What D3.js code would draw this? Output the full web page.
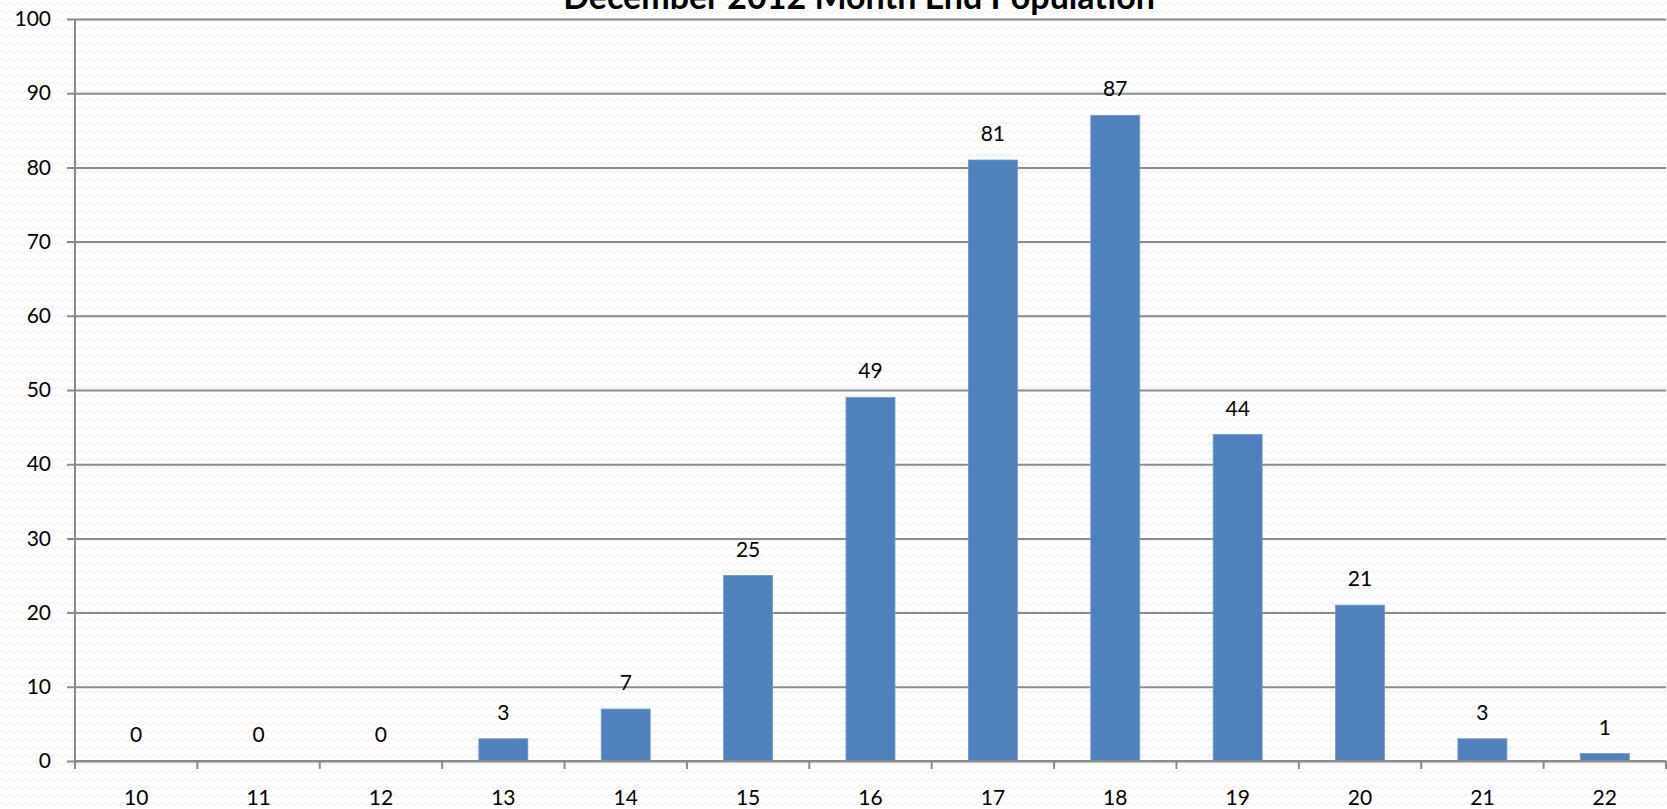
<!DOCTYPE html>
<html>
<head>
<meta charset="utf-8">
<script src="https://cdn.jsdelivr.net/npm/d3@7/dist/d3.min.js"></script>
<style>
  html, body { margin: 0; padding: 0; background: #ffffff; overflow: hidden; }
  svg { display: block; }
  text { font-family: Lato, "Open Sans", sans-serif; fill: #000; }
</style>
</head>
<body>
<svg id="chart" width="1667" height="809"></svg>
<script>
// Month-end population by age
const title = "December 2012 Month End Population";
const ages = ["10", "11", "12", "13", "14", "15", "16", "17", "18", "19", "20", "21", "22"];
const counts = [0, 0, 0, 3, 7, 25, 49, 81, 87, 44, 21, 3, 1];
const yTicks = [0, 10, 20, 30, 40, 50, 60, 70, 80, 90, 100];

const W = 1667, H = 809;
const margin = { top: 19, right: 1, bottom: 48, left: 75 };
const fontSize = 21;

const svg = d3.select("#chart");

// subtle woven background texture
const defs = svg.append("defs");
const pat = defs.append("pattern")
  .attr("id", "wave")
  .attr("patternUnits", "userSpaceOnUse")
  .attr("width", 8).attr("height", 8);
pat.append("rect").attr("width", 8).attr("height", 8).attr("fill", "#ffffff");
pat.append("path")
  .attr("d", "M0,5 Q2,1 4,3 T8,5")
  .attr("fill", "none")
  .attr("stroke", "#eeeeee")
  .attr("stroke-width", 1.1);
svg.append("rect").attr("width", W).attr("height", H).attr("fill", "url(#wave)");

const x = d3.scaleBand()
  .domain(ages)
  .range([margin.left, W - margin.right])
  .paddingInner(0.6)
  .paddingOuter(0.3);

const y = d3.scaleLinear()
  .domain([0, 100])
  .range([H - margin.bottom, margin.top]);

const gridColor = "#8a8a8a";

// horizontal gridlines with left tick stubs
const yAxis = d3.axisLeft(y)
  .tickValues(yTicks)
  .tickSize(-(W - margin.right - margin.left))
  .tickSizeOuter(0)
  .tickPadding(24);
const gy = svg.append("g")
  .attr("transform", `translate(${margin.left},0)`)
  .call(yAxis);
gy.select(".domain").remove();
gy.selectAll(".tick line")
  .attr("x1", -8)
  .attr("stroke", gridColor)
  .attr("stroke-width", 2);
gy.selectAll(".tick text")
  .attr("font-size", fontSize)
  .attr("font-family", "Lato, 'Open Sans', sans-serif")
  .attr("fill", "#000");

// bars
svg.append("g").selectAll("rect")
  .data(counts)
  .join("rect")
  .attr("x", (d, i) => x(ages[i]))
  .attr("y", d => y(d))
  .attr("width", x.bandwidth())
  .attr("height", d => y(0) - y(d))
  .attr("fill", "#4f81bd")
  .attr("stroke", "#6f97c9")
  .attr("stroke-width", 0.8);

// value labels
svg.append("g").selectAll("text")
  .data(counts)
  .join("text")
  .attr("x", (d, i) => x(ages[i]) + x.bandwidth() / 2)
  .attr("y", d => y(d) - 19)
  .attr("text-anchor", "middle")
  .attr("font-size", fontSize)
  .text(d => d);

// category axis with ticks between bands
const xAxis = d3.axisBottom(x).tickSize(0).tickPadding(29);
const gx = svg.append("g")
  .attr("transform", `translate(0,${y(0)})`)
  .call(xAxis);
gx.select(".domain").remove();
gx.selectAll(".tick text")
  .attr("font-size", fontSize)
  .attr("font-family", "Lato, 'Open Sans', sans-serif")
  .attr("fill", "#000");

const boundaries = d3.range(ages.length + 1).map(i => margin.left + i * (W - margin.right - margin.left) / ages.length);
svg.append("g").selectAll("line")
  .data(boundaries)
  .join("line")
  .attr("x1", d => d).attr("x2", d => d)
  .attr("y1", y(0)).attr("y2", y(0) + 8)
  .attr("stroke", gridColor)
  .attr("stroke-width", 2);

// axis lines
svg.append("line")
  .attr("x1", margin.left).attr("x2", W - margin.right)
  .attr("y1", y(0)).attr("y2", y(0))
  .attr("stroke", gridColor).attr("stroke-width", 2);
svg.append("line")
  .attr("x1", margin.left).attr("x2", margin.left)
  .attr("y1", y(100)).attr("y2", y(0) + 8)
  .attr("stroke", gridColor).attr("stroke-width", 2);

// title
svg.append("text")
  .attr("x", 859)
  .attr("y", 9)
  .attr("text-anchor", "middle")
  .attr("font-size", 34)
  .attr("font-weight", "bold")
  .text(title);
</script>
</body>
</html>
